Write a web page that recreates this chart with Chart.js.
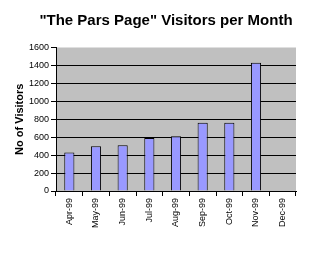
<!DOCTYPE html>
<html>
<head>
<meta charset="utf-8">
<script src="https://cdn.jsdelivr.net/npm/chart.js@4"></script>
<style>
  html, body { margin: 0; padding: 0; background: #fff; }
  #wrap { width: 332px; height: 266px; }
</style>
</head>
<body>
<div id="wrap"><canvas id="statChart" width="332" height="266"></canvas></div>
<script>
// data
var months = ['Apr-99', 'May-99', 'Jun-99', 'Jul-99', 'Aug-99', 'Sep-99', 'Oct-99', 'Nov-99', 'Dec-99'];
var visitors = [430, 500, 510, 590, 610, 760, 760, 1430, null];
var yTicks = [0, 200, 400, 600, 800, 1000, 1200, 1400, 1600];

// grey plot background
var plotBg = {
    id: 'plotBg',
    beforeDraw: function (chart) {
        var a = chart.chartArea, c = chart.ctx;
        c.save();
        c.fillStyle = '#c0c0c0';
        c.fillRect(a.left, a.top, a.right - a.left, a.bottom - a.top);
        c.restore();
    }
};

var ctx = document.getElementById('statChart').getContext('2d');

var chart = new Chart(ctx, {
    type: 'bar',
    data: {
        labels: months,
        datasets: [{
            label: 'Visitors',
            data: visitors,
            backgroundColor: '#9999ff',
            borderColor: '#000',
            borderWidth: 1,
            barPercentage: 0.38,
            categoryPercentage: 1
        }]
    },
    options: {
        responsive: false,
        animation: false,
        layout: { padding: 0 },
        plugins: {
            legend: { display: false },
            tooltip: { enabled: false },
            title: {
                display: true,
                text: '"The Pars Page" Visitors per Month',
                color: '#000',
                font: { family: 'Liberation Sans', size: 15, weight: 'bold', lineHeight: 1.2 },
                padding: { top: 11.5, bottom: 18 }
            }
        },
        scales: {
            x: {
                afterFit: function (s) { s.height = 75; },
                grid: { offset: true, drawOnChartArea: false, color: '#000', tickColor: '#000', tickLength: 5 },
                border: { color: '#000' },
                ticks: {
                    color: '#000', minRotation: 90, maxRotation: 90, padding: 2,
                    font: { family: 'Liberation Sans', size: 9 }
                }
            },
            y: {
                min: 0,
                max: 1600,
                afterFit: function (s) { s.width = 56; },
                afterBuildTicks: function (s) { s.ticks = yTicks.map(function (v) { return { value: v }; }); },
                grid: {
                    color: function (c) { return c.tick && c.tick.value === 1600 ? 'rgba(0,0,0,0)' : '#000'; },
                    tickColor: '#000',
                    tickLength: 5
                },
                border: { color: '#000' },
                ticks: {
                    color: '#000', padding: 2,
                    font: { family: 'Liberation Sans', size: 9 },
                    callback: function (v) { return String(v); }
                },
                title: {
                    display: true,
                    text: 'No of Visitors',
                    color: '#000',
                    font: { family: 'Liberation Sans', size: 11, weight: 'bold', lineHeight: 1.2 },
                    padding: { top: 13, bottom: 0 }
                }
            },
            // empty right-hand space so the title stays centred on the canvas
            yRight: {
                position: 'right',
                display: true,
                afterFit: function (s) { s.width = 36; },
                grid: { display: false },
                border: { display: false },
                ticks: { display: false }
            }
        }
    },
    plugins: [plotBg]
});
</script>
</body>
</html>
